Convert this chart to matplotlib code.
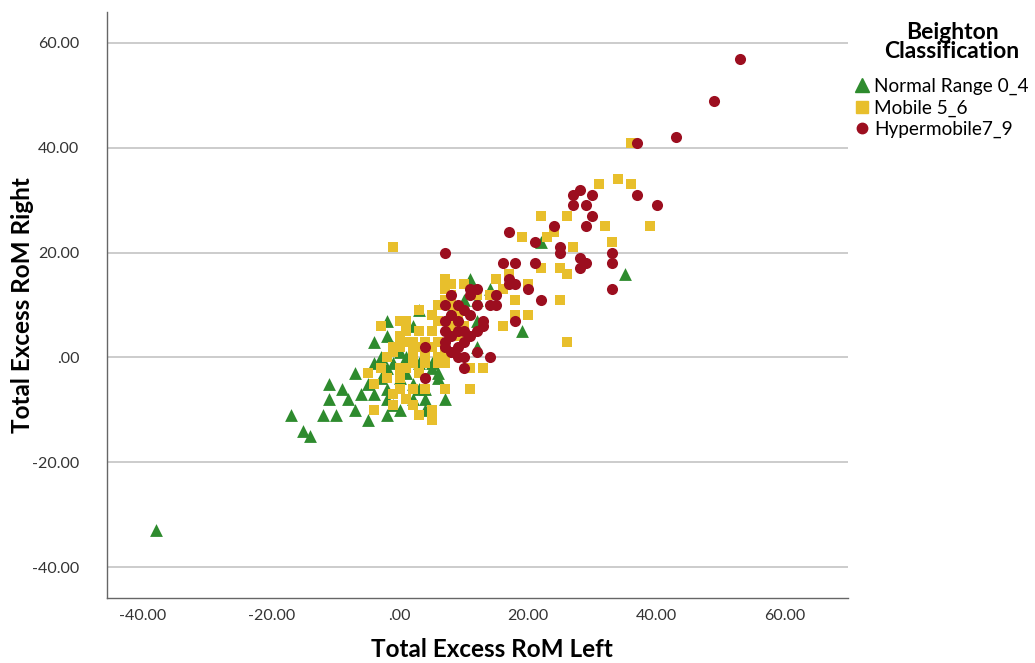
import numpy as np
import matplotlib
matplotlib.use("Agg")
import matplotlib.pyplot as plt
from matplotlib.lines import Line2D

# datos (Total Excess RoM Left / Right)
normal_x = [-38, -17, -15, -14, -12, -10, -11, -9, -11, -8, -7, -5, -5, -4, -3, -2, 0, -2,
            0, -2, -4, -4, -2, -2, 2, 3, 1, -1, -2, 2, 4, 4, 5, 6, 7, 5, 6, 3, 12, 10,
            8, 11, 14, 12, 12, 19, 22, 35, 1, -1, 3, -3, 0, 2, -6, -1, 4, -7]
normal_y = [-33, -11, -14, -15, -11, -11, -5, -6, -8, -8, -10, -12, -5, -7, -4, -6, -4, -11,
            -10, -8, -1, 3, 4, 7, 6, 9, 0, -1, -2, -8, -8, -10, -2, -4, -8, -1, -3, -1, 11, 11,
            9, 15, 13, 7, 2, 5, 22, 16, -3, 2, -6, 0, 1, -5, -7, -9, -6, -3]

mobile_x = [-1, -5, -4, -4, -1, 0, 1, 1, 0, -1, 2, 4, 5, 3, 0, 1, 0, 0, 2, 4,
            2, 5, 5, 7, 11, 8, 10, 7, 8, 7, 3, 7, 7, 6, 11, 13, 16, 18, 20, 18,
            16, 17, 20, 14, 19, 23, 22, 26, 25, 26, 25, 26, 27, 33, 32, 39, 31, 34, 36, 36,
            9, 3, 2, 4, 6, 5, 8, 6, -3, -2, 1, 3, -1, 2, 5, 7, 9, 10, 12, 3,
            0, -3, -2, 15, 24, 22, 4, -1, 1, 6, 7, 8, 4, 2, 0, 6]
mobile_y = [21, -3, -5, -10, 1, 7, 7, 5, 2, 2, -1, -1, 5, 5, -2, -2, -6, -4, -6, -6,
            -9, -10, -12, -6, -6, 14, 14, 15, 12, 13, 9, -1, 0, 0, -2, -2, 6, 8, 8, 11,
            13, 16, 14, 12, 23, 23, 27, 27, 17, 16, 11, 3, 21, 22, 25, 25, 33, 34, 33, 41,
            4, 2, 3, 3, 3, 8, 6, 7, -2, -4, -8, -3, -7, 0, 2, 2, 8, 6, 12, -11,
            4, 6, 0, 15, 24, 17, 0, -9, 3, 10, 11, 10, 1, 1, 3, -1]

hyper_x = [53, 49, 43, 37, 37, 40, 28, 27, 30, 27, 29, 30, 29, 24, 17, 21, 25, 25, 28, 29,
           28, 33, 33, 33, 7, 16, 18, 21, 17, 17, 18, 20, 22, 18, 15, 14, 15, 12, 11, 12,
           11, 11, 13, 13, 12, 10, 9, 7, 9, 7, 7, 7, 7, 9, 9, 10, 12, 14, 10, 4,
           4, 10, 8, 11, 8, 8, 10, 8, 9]
hyper_y = [57, 49, 42, 41, 31, 29, 32, 31, 31, 29, 29, 27, 25, 25, 24, 22, 21, 20, 19, 18,
           17, 20, 18, 13, 20, 18, 18, 18, 15, 14, 14, 13, 11, 7, 12, 10, 10, 10, 13, 13,
           12, 8, 7, 6, 5, 5, 7, 10, 10, 7, 5, 3, 2, 2, 0, 0, 1, 0, -2, 2,
           -4, 3, 4, 4, 1, 8, 9, 12, 5]

categorias = ["Normal Range 0_4", "Mobile 5_6", "Hypermobile7_9"]
colores = ["#2E8B2E", "#E8BF2C", "#9C0E1F"]
marcadores = ["^", "s", "o"]

plt.rcParams['font.family'] = ['Lato', 'DejaVu Sans']

fig = plt.figure(figsize=(10.35, 6.63), dpi=100)
ax = fig.add_axes([107 / 1035, 1 - 598 / 663, 741 / 1035, 586 / 663])

ax.scatter(normal_x, normal_y, marker="^", s=85, color=colores[0], linewidths=0, zorder=3)
ax.scatter(mobile_x, mobile_y, marker="s", s=58, color=colores[1], linewidths=0, zorder=3)
ax.scatter(hyper_x, hyper_y, marker="o", s=64, color=colores[2], linewidths=0, zorder=3)

ax.set_xlim(-45.6, 69.8)
ax.set_ylim(-45.9, 65.9)
ticks = [-40, -20, 0, 20, 40, 60]
etiquetas = ["-40.00", "-20.00", ".00", "20.00", "40.00", "60.00"]
ax.set_xticks(ticks)
ax.set_xticklabels(etiquetas)
ax.set_yticks(ticks)
ax.set_yticklabels(etiquetas)
ax.tick_params(axis="both", length=0, labelsize=11.5, colors="#333333")
ax.tick_params(axis="y", pad=20)
ax.tick_params(axis="x", pad=8)

# solo lineas horizontales
ax.yaxis.grid(True, color="#C8C8C8", linewidth=1.3, zorder=0)
ax.set_axisbelow(True)
for lado in ["top", "right"]:
    ax.spines[lado].set_visible(False)
for lado in ["left", "bottom"]:
    ax.spines[lado].set_color("#666666")
    ax.spines[lado].set_linewidth(1.0)

ax.set_xlabel("Total Excess RoM Left", fontsize=17.5, fontweight="bold")
ax.set_ylabel("Total Excess RoM Right", fontsize=17.5, fontweight="bold")
ax.xaxis.set_label_coords((492 - 107) / 741, -(638 - 598) / 586)
ax.yaxis.set_label_coords(-(107 - 34) / 741, 0.5)

# leyenda
fig.text(952 / 1035, 1 - 42 / 663, "Beighton\nClassification", ha="center", va="center",
         fontsize=16.5, fontweight="bold", multialignment="center", linespacing=0.92)
handles = [Line2D([], [], marker=m, linestyle="none", color=c, markersize=ms)
           for m, c, ms in zip(marcadores, colores, [10, 8, 7.5])]
fig.legend(handles, categorias, loc="upper left", bbox_to_anchor=(855 / 1035, 1 - 78 / 663),
           frameon=False, fontsize=13.7, handlelength=0.7, handletextpad=0.3,
           labelspacing=0.22, borderpad=0, borderaxespad=0)

fig.savefig("out.png", dpi=100)
